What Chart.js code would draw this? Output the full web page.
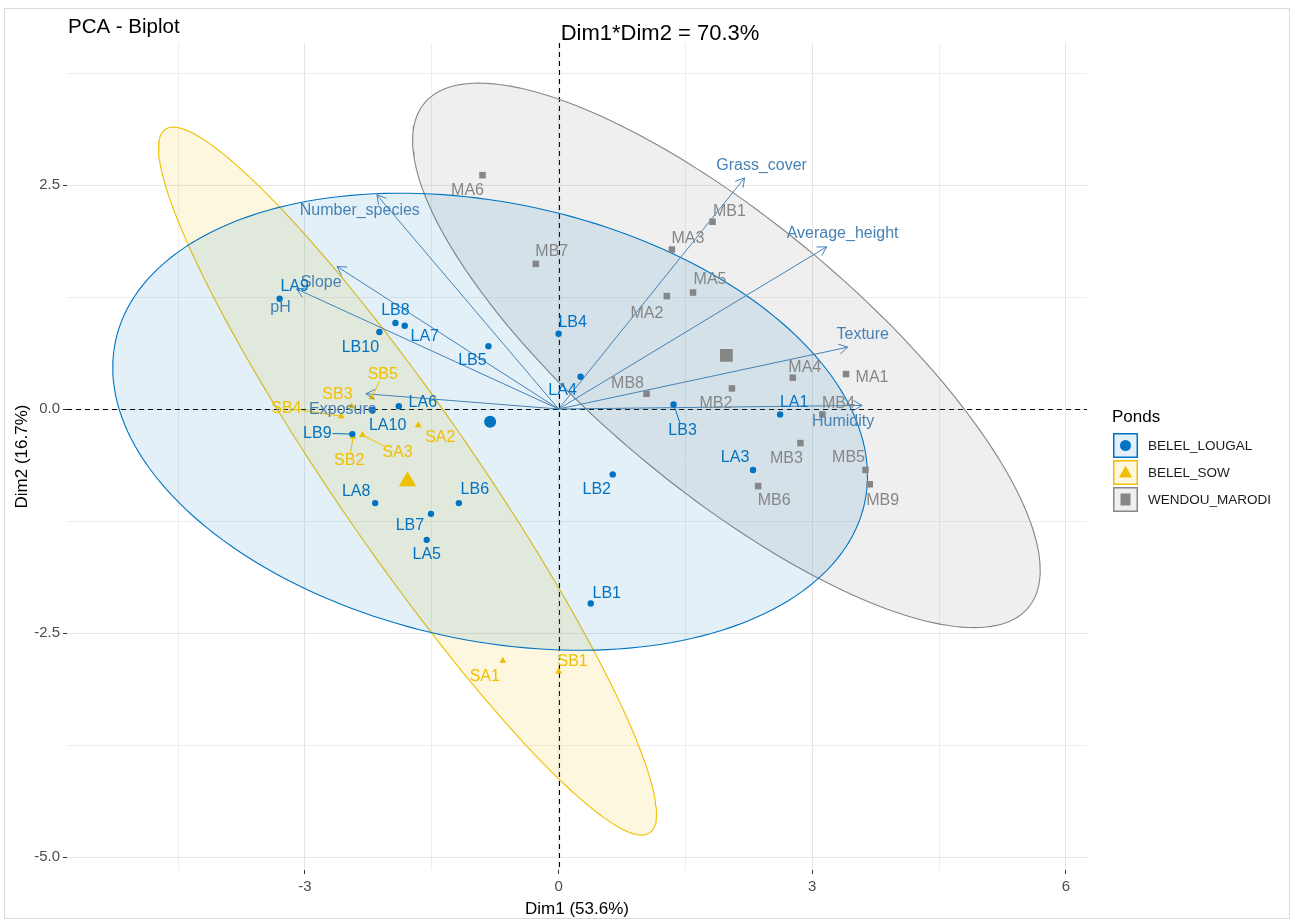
<!DOCTYPE html>
<html>
<head>
<meta charset="utf-8">
<script src="https://cdn.jsdelivr.net/npm/chart.js@4.4.1/dist/chart.umd.min.js"></script>
<style>
html,body{margin:0;padding:0;background:#fff;}
#wrap{width:1295px;height:924px;position:relative;}
</style>
</head>
<body>
<div id="wrap"><canvas id="c" width="1295" height="924"></canvas></div>
<script>
// ---------------- DATA ----------------
const groupNames = ['BELEL_LOUGAL', 'BELEL_SOW', 'WENDOU_MARODI'];

const louNames = ['LA1','LA3','LA4','LA5','LA6','LA7','LA8','LA9','LA10','LB1','LB2','LB3','LB4','LB5','LB6','LB7','LB8','LB9','LB10'];
const louDim1  = [2.62, 2.30, 0.26, -1.56, -1.89, -1.82, -2.17, -3.30, -2.20, 0.38, 0.64, 1.36, 0.00, -0.83, -1.18, -1.51, -1.93, -2.44, -2.12];
const louDim2  = [-0.06, -0.68, 0.36, -1.46, 0.03, 0.93, -1.05, 1.23, -0.01, -2.17, -0.73, 0.05, 0.84, 0.70, -1.05, -1.17, 0.96, -0.28, 0.86];

const sowNames = ['SA1','SA2','SA3','SB1','SB2','SB3','SB4','SB5'];
const sowDim1  = [-0.66, -1.66, -2.32, 0.00, -2.43, -2.45, -2.57, -2.21];
const sowDim2  = [-2.81, -0.18, -0.29, -2.93, -0.31, 0.03, -0.08, 0.13];

const marNames = ['MA1','MA2','MA3','MA4','MA5','MA6','MB1','MB2','MB3','MB4','MB5','MB6','MB7','MB8','MB9'];
const marDim1  = [3.40, 1.28, 1.34, 2.77, 1.59, -0.90, 1.82, 2.05, 2.86, 3.12, 3.63, 2.36, -0.27, 1.04, 3.68];
const marDim2  = [0.39, 1.26, 1.78, 0.35, 1.30, 2.61, 2.09, 0.23, -0.38, -0.06, -0.68, -0.86, 1.62, 0.17, -0.84];

const varNames = ['Grass_cover','Average_height','Texture','Humidity','Number_species','Slope','pH','Exposure'];
const varDim1  = [2.20, 3.17, 3.42, 3.59, -2.15, -2.62, -3.10, -2.28];
const varDim2  = [2.58, 1.81, 0.69, 0.04, 2.39, 1.59, 1.34, 0.17];

const xMajorTicks = [-3, 0, 3, 6];
const xMajorLabels = ['-3', '0', '3', '6'];
const xMinorTicks = [-4.5, -1.5, 1.5, 4.5];
const yMajorTicks = [2.5, 0, -2.5, -5];
const yMajorLabels = ['2.5', '0.0', '-2.5', '-5.0'];
const yMinorTicks = [3.75, 1.25, -1.25, -3.75];

const titleText = 'PCA - Biplot';
const subtitleText = 'Dim1*Dim2 = 70.3%';
const xTitle = 'Dim1 (53.6%)';
const yTitle = 'Dim2 (16.7%)';
const legendTitle = 'Ponds';

// ---------------- STYLE / LAYOUT ----------------
const FONT = '"Liberation Sans", Arial, sans-serif';
const STEEL = '#4682B4';
const gColors = ['#0073C2', '#EFC000', '#868686'];
const gFills = ['rgba(0,115,194,0.11)', 'rgba(239,192,0,0.12)', 'rgba(134,134,134,0.13)'];
const gStyles = ['circle', 'triangle', 'rect'];
const gRadius = [3.2, 4, 4.6];
const gCentroidRadius = [6, 10, 9];

// label offsets in pixels relative to the point (repel placement)
const labelOffset = {
  LA9:[15,-12], LB8:[0,-12], LA7:[20,11], LB10:[-19,16], LB5:[-16,14], LB4:[14,-11], LA4:[-18,14],
  LA6:[24,-4], LA10:[15,16], LB9:[-35,-1], LA8:[-19,-11], LB6:[16,-13], LB7:[-21,12], LA5:[0,15],
  LB3:[9,26], LA1:[14,-12], LA3:[-18,-12], LB2:[-16,15], LB1:[16,-10],
  SB5:[11,-23], SB3:[-14,-12], SB4:[-55,-8], SB2:[-4,24], SA3:[35,18], SA2:[22,12], SA1:[-18,16], SB1:[14,-10],
  MA6:[-15,15], MB7:[16,-12], MB1:[17,-10], MA3:[16,-11], MA5:[17,-13], MA2:[-20,17], MA4:[12,-10],
  MA1:[26,4], MB2:[-16,15], MB8:[-19,-10], MB4:[16,-11], MB3:[-14,16], MB6:[16,15], MB5:[-17,-12], MB9:[13,16],
  Grass_cover:[17,-12], Average_height:[16,-13], Texture:[15,-13], Humidity:[-19,16],
  Number_species:[-17,16], Slope:[-16,16], pH:[-16,19], Exposure:[-23,16]
};
const segmentLabels = ['LB9','SB5','SB2','SA3','LB3','SB4'];

// ---------------- HELPERS ----------------
const groupsData = [
  {names: louNames, xs: louDim1, ys: louDim2},
  {names: sowNames, xs: sowDim1, ys: sowDim2},
  {names: marNames, xs: marDim1, ys: marDim2}
];
const mean = a => a.reduce((s, v) => s + v, 0) / a.length;
function toPts(xs, ys) { return xs.map((x, i) => ({x: x, y: ys[i]})); }

// ggplot2 stat_ellipse(type = "norm", level = 0.95)
function normEllipse(xs, ys, level, segments) {
  const n = xs.length, mx = mean(xs), my = mean(ys);
  let sxx = 0, syy = 0, sxy = 0;
  for (let i = 0; i < n; i++) {
    const dx = xs[i] - mx, dy = ys[i] - my;
    sxx += dx * dx; syy += dy * dy; sxy += dx * dy;
  }
  sxx /= (n - 1); syy /= (n - 1); sxy /= (n - 1);
  const dfd = n - 1;
  const F = (dfd / 2) * (Math.pow(1 - level, -2 / dfd) - 1); // qf(level, 2, dfd)
  const r = Math.sqrt(2 * F);
  const a = Math.sqrt(sxx), b = sxy / a, c = Math.sqrt(syy - b * b);
  const out = [];
  for (let k = 0; k <= segments; k++) {
    const t = 2 * Math.PI * k / segments;
    out.push({x: mx + r * a * Math.cos(t), y: my + r * (b * Math.cos(t) + c * Math.sin(t))});
  }
  return out;
}

// ---------------- DATASETS ----------------
const datasets = [];
groupsData.forEach((g, gi) => {
  datasets.push({
    label: 'ellipse' + gi, data: normEllipse(g.xs, g.ys, 0.95, 200), showLine: true, fill: 'shape',
    borderColor: gColors[gi], backgroundColor: gFills[gi], borderWidth: 1.1, pointRadius: 0, tension: 0, order: 10
  });
});
varNames.forEach((v, i) => {
  datasets.push({
    label: v, data: [{x: 0, y: 0}, {x: varDim1[i], y: varDim2[i]}], showLine: true, fill: false,
    borderColor: STEEL, borderWidth: 1, pointRadius: 0, order: 4
  });
});
groupsData.forEach((g, gi) => {
  datasets.push({
    label: groupNames[gi], data: toPts(g.xs, g.ys), showLine: false,
    pointStyle: gStyles[gi], pointRadius: gRadius[gi], backgroundColor: gColors[gi], borderColor: gColors[gi], borderWidth: 0, order: 2
  });
  datasets.push({
    label: groupNames[gi] + ' mean', data: [{x: mean(g.xs), y: mean(g.ys)}], showLine: false,
    pointStyle: gStyles[gi], pointRadius: gCentroidRadius[gi], backgroundColor: gColors[gi], borderColor: gColors[gi], borderWidth: 0, order: 1
  });
});

// ---------------- PLUGIN ----------------
function labelFont(ctx) { ctx.font = '16px ' + FONT; }

const overlay = {
  id: 'overlay',
  beforeDraw(chart) {
    const ctx = chart.ctx;
    ctx.save();
    ctx.fillStyle = '#fff';
    ctx.fillRect(0, 0, chart.width, chart.height);
    ctx.strokeStyle = '#d9d9d9';
    ctx.lineWidth = 1;
    ctx.strokeRect(4.5, 8.5, 1285, 910);
    ctx.restore();
  },
  beforeDatasetsDraw(chart) {
    const ctx = chart.ctx, sx = chart.scales.x, sy = chart.scales.y, a = chart.chartArea;
    ctx.save();
    ctx.strokeStyle = '#000';
    ctx.lineWidth = 1.1;
    ctx.setLineDash([5, 4]);
    const x0 = Math.round(sx.getPixelForValue(0)) + 0.5, y0 = Math.round(sy.getPixelForValue(0)) + 0.5;
    ctx.beginPath(); ctx.moveTo(a.left, y0); ctx.lineTo(a.right, y0); ctx.stroke();
    ctx.beginPath(); ctx.moveTo(x0, a.top); ctx.lineTo(x0, a.bottom); ctx.stroke();
    ctx.restore();
  },
  afterDatasetsDraw(chart) {
    const ctx = chart.ctx, sx = chart.scales.x, sy = chart.scales.y;
    ctx.save();
    // arrowheads
    const ox = sx.getPixelForValue(0), oy = sy.getPixelForValue(0);
    ctx.strokeStyle = STEEL; ctx.lineWidth = 1;
    varNames.forEach((v, i) => {
      const x1 = sx.getPixelForValue(varDim1[i]), y1 = sy.getPixelForValue(varDim2[i]);
      const ang = Math.atan2(y1 - oy, x1 - ox), L = 10, h = Math.PI / 6;
      ctx.beginPath();
      ctx.moveTo(x1 - L * Math.cos(ang - h), y1 - L * Math.sin(ang - h));
      ctx.lineTo(x1, y1);
      ctx.lineTo(x1 - L * Math.cos(ang + h), y1 - L * Math.sin(ang + h));
      ctx.stroke();
    });
    labelFont(ctx);
    ctx.textAlign = 'center'; ctx.textBaseline = 'middle';
    // segments for repelled labels
    groupsData.forEach((g, gi) => {
      g.names.forEach((n, i) => {
        if (segmentLabels.indexOf(n) < 0) return;
        const px = sx.getPixelForValue(g.xs[i]), py = sy.getPixelForValue(g.ys[i]);
        const off = labelOffset[n];
        const lx = px + off[0], ly = py + off[1];
        const w = ctx.measureText(n).width / 2 + 1, hh = 7;
        const dx = px - lx, dy = py - ly;
        let t = Math.min(dx !== 0 ? w / Math.abs(dx) : Infinity, dy !== 0 ? hh / Math.abs(dy) : Infinity);
        if (t >= 1) return;
        ctx.strokeStyle = gColors[gi]; ctx.lineWidth = 1;
        ctx.beginPath(); ctx.moveTo(lx + dx * t, ly + dy * t); ctx.lineTo(px, py); ctx.stroke();
      });
    });
    // variable labels
    ctx.fillStyle = STEEL;
    varNames.forEach((v, i) => {
      const px = sx.getPixelForValue(varDim1[i]), py = sy.getPixelForValue(varDim2[i]);
      const off = labelOffset[v];
      ctx.fillText(v, px + off[0], py + off[1]);
    });
    // individual labels
    groupsData.forEach((g, gi) => {
      ctx.fillStyle = gColors[gi];
      g.names.forEach((n, i) => {
        const px = sx.getPixelForValue(g.xs[i]), py = sy.getPixelForValue(g.ys[i]);
        const off = labelOffset[n] || [0, -12];
        ctx.fillText(n, px + off[0], py + off[1]);
      });
    });
    ctx.restore();
  },
  afterDraw(chart) {
    const ctx = chart.ctx, a = chart.chartArea;
    ctx.save();
    ctx.fillStyle = '#000';
    ctx.textBaseline = 'alphabetic';
    ctx.textAlign = 'left';
    ctx.font = '20.5px ' + FONT;
    ctx.fillText(titleText, 68, 33);
    ctx.textAlign = 'center';
    ctx.font = '22px ' + FONT;
    ctx.fillText(subtitleText, 660, 40);
    // axis titles
    ctx.font = '17px ' + FONT;
    ctx.textBaseline = 'middle';
    ctx.fillText(xTitle, (a.left + a.right) / 2, 909);
    ctx.save();
    ctx.translate(22, (a.top + a.bottom) / 2);
    ctx.rotate(-Math.PI / 2);
    ctx.fillText(yTitle, 0, 0);
    ctx.restore();
    // legend
    ctx.textAlign = 'left';
    ctx.textBaseline = 'alphabetic';
    ctx.font = '17px ' + FONT;
    ctx.fillText(legendTitle, 1112, 422);
    ctx.font = '13.5px ' + FONT;
    ctx.textBaseline = 'middle';
    groupNames.forEach((gname, gi) => {
      const bx = 1113, by = 433 + gi * 27, s = 25;
      ctx.fillStyle = '#fff';
      ctx.fillRect(bx, by, s, s);
      ctx.fillStyle = gFills[gi];
      ctx.fillRect(bx, by, s, s);
      ctx.strokeStyle = gColors[gi]; ctx.lineWidth = 1.5;
      ctx.strokeRect(bx + 0.75, by + 0.75, s - 1.5, s - 1.5);
      const cx = bx + s / 2, cy = by + s / 2;
      ctx.fillStyle = gColors[gi];
      ctx.beginPath();
      if (gi === 0) { ctx.arc(cx, cy, 5.5, 0, Math.PI * 2); }
      else if (gi === 1) { ctx.moveTo(cx, cy - 7); ctx.lineTo(cx + 6.5, cy + 5); ctx.lineTo(cx - 6.5, cy + 5); ctx.closePath(); }
      else { ctx.rect(cx - 5, cy - 6, 10, 12); }
      ctx.fill();
      ctx.fillStyle = '#1a1a1a';
      ctx.fillText(gname, 1148, cy + 1);
    });
    ctx.restore();
  }
};

// ---------------- CHART ----------------
const isMajor = (arr, v) => arr.some(t => Math.abs(t - v) < 1e-9);
const xAll = xMajorTicks.concat(xMinorTicks).sort((p, q) => p - q);
const yAll = yMajorTicks.concat(yMinorTicks).sort((p, q) => p - q);

new Chart(document.getElementById('c'), {
  type: 'scatter',
  data: {datasets: datasets},
  options: {
    responsive: false,
    animation: false,
    events: [],
    layout: {padding: {left: 5, right: 208, top: 43, bottom: 0}},
    plugins: {legend: {display: false}, tooltip: {enabled: false}, title: {display: false}},
    scales: {
      x: {
        type: 'linear', min: -5.815, max: 6.25,
        afterBuildTicks: s => { s.ticks = xAll.map(v => ({value: v})); },
        afterFit: s => { s.height = 54; },
        border: {display: false},
        grid: {
          color: c => isMajor(xMajorTicks, c.tick.value) ? '#e6e6e6' : '#eeeeee',
          lineWidth: 1,
          drawTicks: true, tickLength: 4,
          tickColor: c => isMajor(xMajorTicks, c.tick.value) ? '#333333' : 'rgba(0,0,0,0)'
        },
        ticks: {
          autoSkip: false, maxRotation: 0, padding: 4, color: '#4d4d4d', font: {size: 15, family: FONT},
          callback: v => { const k = xMajorTicks.findIndex(t => Math.abs(t - v) < 1e-9); return k >= 0 ? xMajorLabels[k] : ''; }
        }
      },
      y: {
        type: 'linear', min: -5.145, max: 4.085,
        afterBuildTicks: s => { s.ticks = yAll.map(v => ({value: v})); },
        afterFit: s => { s.width = 62; },
        border: {display: false},
        grid: {
          color: c => isMajor(yMajorTicks, c.tick.value) ? '#e6e6e6' : '#eeeeee',
          lineWidth: 1,
          drawTicks: true, tickLength: 4,
          tickColor: c => isMajor(yMajorTicks, c.tick.value) ? '#333333' : 'rgba(0,0,0,0)'
        },
        ticks: {
          autoSkip: false, padding: 3, color: '#4d4d4d', font: {size: 15, family: FONT},
          callback: v => { const k = yMajorTicks.findIndex(t => Math.abs(t - v) < 1e-9); return k >= 0 ? yMajorLabels[k] : ''; }
        }
      }
    }
  },
  plugins: [overlay]
});
</script>
</body>
</html>
